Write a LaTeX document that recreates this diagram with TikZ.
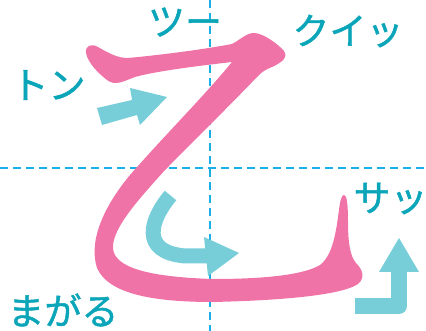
\documentclass[tikz,border=0pt]{standalone}
\usepackage{fontspec}
\newfontfamily\jpfont[FakeBold=1.2]{Noto Sans CJK JP}
\definecolor{pinkstroke}{HTML}{F073A8}
\definecolor{arrowcyan}{HTML}{78CED8}
\definecolor{labelteal}{HTML}{0AA5B8}
\definecolor{guide}{HTML}{1AAFE8}
\begin{document}
\begin{tikzpicture}[x=1pt,y=-1pt,
  lbl/.style={font=\jpfont\fontsize{37}{37}\selectfont, text=labelteal, inner sep=0pt, anchor=center},
  guideline/.style={guide, line width=2.5pt, dash pattern=on 8pt off 5pt},
  arrowfill/.style={fill=arrowcyan, draw=none},
  arrowshaft/.style={draw=arrowcyan, line width=15pt, line cap=butt}]
\useasboundingbox (0,0) rectangle (426,331);
% guide lines
\coordinate (hl) at (0,168); \coordinate (hr) at (426,168);
\coordinate (vt) at (210,0); \coordinate (vb) at (210,331);
\draw[guideline] (hl) -- (hr);
\draw[guideline] (vt) -- (vb);
% brush stroke
\fill[pinkstroke] (86,53) .. controls (85,46) and (91,43) .. (98,47)
  .. controls (110,54) and (118,58) .. (128,58)
  .. controls (160,55) and (200,50) .. (232,44)
  .. controls (240,40) and (246,33) .. (254,33)
  .. controls (263,33) and (278,44) .. (284,51)
  .. controls (288,57) and (283,62) .. (272,67)
  .. controls (267,69) and (263,71) .. (259,75)
  .. controls (230,105) and (195,140) .. (165,170)
  .. controls (140,198) and (112,228) .. (113,248)
  .. controls (114,268) and (150,277) .. (213,279)
  .. controls (270,279) and (305,274) .. (320,265)
  .. controls (333,255) and (336,232) .. (339,210)
  .. controls (340,200) and (342,195) .. (344,195)
  .. controls (347,195) and (348,205) .. (348,222)
  .. controls (348,242) and (350,256) .. (356,263)
  .. controls (362,269) and (366,277) .. (358,284)
  .. controls (345,293) and (300,300) .. (213,302)
  .. controls (150,302) and (108,293) .. (97,268)
  .. controls (88,240) and (105,205) .. (130,175)
  .. controls (165,135) and (205,95) .. (232,62)
  .. controls (215,64) and (160,70) .. (135,77)
  .. controls (122,82) and (115,86) .. (107,80)
  .. controls (98,73) and (88,63) .. (86,53) -- cycle;
% arrow 1
\fill[arrowfill] (97,108) -- (132,100) -- (130,88) -- (167,97) -- (140,125) -- (137,115) -- (102,125) -- cycle;
% arrow 2
\draw[arrowshaft] (170.5,195.5) .. controls (150,220) and (140,252) .. (185,256) -- (207,256);
\fill[arrowfill] (204,237) -- (239,253) -- (208,276) -- cycle;
% arrow 3
\draw[arrowshaft, line width=16pt, line join=round] (355,306.5) -- (398.5,306.5) -- (398.5,271);
\fill[arrowfill] (379,272) -- (419,272) -- (399,238) -- cycle;
% labels
\node[lbl] (tsu) at (185,22) {ツー};
\node[lbl] (kui) at (348,31) {クイッ};
\node[lbl] (ton) at (48.5,85) {トン};
\node[lbl] (sa) at (390.5,198.5) {サッ};
\node[lbl] (mag) at (63,310) {まがる};
\end{tikzpicture}
\end{document}
